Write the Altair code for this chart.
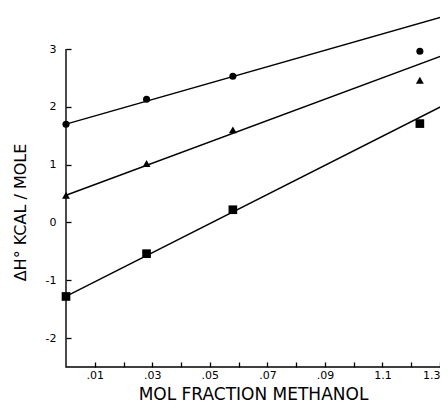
import altair as alt
import pandas as pd

# ---- data ----
series = ["circles", "triangles", "squares"]
shapes = ["circle", "triangle-up", "square"]
marker_sizes = [50, 75, 55]

x_vals = [0.0, 0.028, 0.058, 0.123]
circle_y = [1.70, 2.13, 2.53, 2.96]
triangle_y = [0.47, 1.02, 1.60, 2.46]
square_y = [-1.28, -0.54, 0.22, 1.71]

line_x = [0.0, 0.1326]
circle_line = [1.70, 3.58]
triangle_line = [0.47, 2.92]
square_line = [-1.28, 2.06]

x_ticks = [0.01, 0.02, 0.03, 0.04, 0.05, 0.06, 0.07, 0.08, 0.09, 0.10, 0.11, 0.12, 0.13]
x_label_at = [0.01, 0.03, 0.05, 0.07, 0.09, 0.11, 0.13]
x_label_txt = [".01", ".03", ".05", ".07", ".09", "1.1", "1.3"]
y_ticks = [-2, -1, 0, 1, 2, 3]

x_domain = [0, 0.13]
y_domain = [-2.5, 3]

# ---- tables ----
pts = pd.DataFrame({
    "series": [s for s in series for _ in x_vals],
    "x": x_vals * 3,
    "y": circle_y + triangle_y + square_y,
})
lines = pd.DataFrame({
    "series": [s for s in series for _ in line_x],
    "x": line_x * 3,
    "y": circle_line + triangle_line + square_line,
})
# axis frame: top of y axis -> origin -> end of x axis
frame = pd.DataFrame({
    "x": [x_domain[0], x_domain[0], x_domain[1]],
    "y": [y_domain[1], y_domain[0], y_domain[0]],
    "o": [0, 1, 2],
})

expr = "''"
for v, t in zip(reversed(x_label_at), reversed(x_label_txt)):
    expr = f"abs(datum.value - {v}) < 0.0005 ? '{t}' : ({expr})"

FONT = "DejaVu Sans"
X_TITLE = "MOL FRACTION METHANOL"
Y_TITLE = "ΔH° KCAL / MOLE"

x_axis = alt.Axis(values=x_ticks, labelExpr=expr, ticks=True, tickSize=5, offset=-5,
                  domain=False, grid=False, labelFont=FONT, labelFontSize=11,
                  labelPadding=2, tickColor="#000000", tickOpacity=1, labelColor="black",
                  tickWidth=1.3, titleFont=FONT, titleFontSize=17, titleFontWeight="normal",
                  titleColor="black", titleY=32, titleBaseline="middle")
y_axis = alt.Axis(values=y_ticks, labelExpr="datum.value + ''", ticks=True, tickSize=5,
                  offset=-5, domain=False, grid=False, labelFont=FONT, labelFontSize=11,
                  labelPadding=10, tickColor="#000000", tickOpacity=1, labelColor="black",
                  tickWidth=1.3, titleFont=FONT, titleFontSize=16, titleFontWeight="normal",
                  titleColor="black", titleX=-51, titleY=163, titleAngle=270,
                  titleAlign="center", titleBaseline="middle")
x_scale = alt.Scale(domain=x_domain, nice=False, zero=False)
y_scale = alt.Scale(domain=y_domain, nice=False, zero=False)


def X(f):
    return alt.X(f, type="quantitative", scale=x_scale, axis=x_axis, title=X_TITLE)


def Y(f):
    return alt.Y(f, type="quantitative", scale=y_scale, axis=y_axis, title=Y_TITLE)


frame_layer = alt.Chart(frame).mark_line(color="black", strokeWidth=1.4).encode(
    x=X("x"), y=Y("y"), order="o:Q"
)

line_layer = alt.Chart(lines).mark_line(color="black", strokeWidth=1.4).encode(
    x=X("x"), y=Y("y"), detail="series:N"
)

point_layer = alt.Chart(pts).mark_point(filled=True, opacity=1, color="black").encode(
    x=X("x"), y=Y("y"),
    shape=alt.Shape("series:N", scale=alt.Scale(domain=series, range=shapes), legend=None),
    size=alt.Size("series:N", scale=alt.Scale(domain=series, range=marker_sizes), legend=None),
)

chart = alt.layer(frame_layer, line_layer, point_layer).properties(
    width=374, height=318,
    autosize=alt.AutoSizeParams(type="none"),
    padding={"left": 58, "top": 41, "right": 0, "bottom": 39},
    background="white",
).configure_view(stroke=None)

chart.save("out.html", embed_options={"renderer": "svg", "actions": False})
